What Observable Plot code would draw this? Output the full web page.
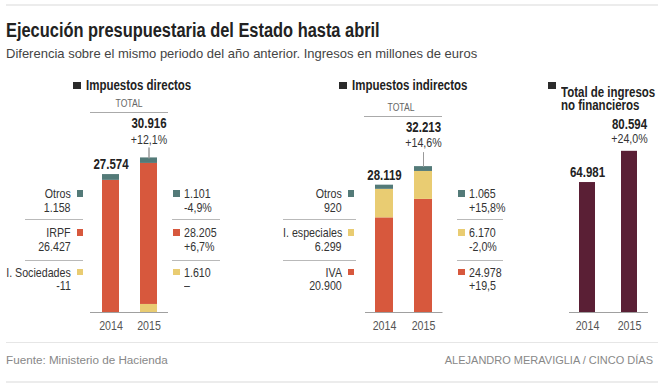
<!DOCTYPE html>
<html><head><meta charset="utf-8">
<script src="https://cdn.jsdelivr.net/npm/d3@7"></script>
<script src="https://cdn.jsdelivr.net/npm/@observablehq/plot@0.6"></script>
<style>
html,body{margin:0;padding:0;background:#fff;}
#chart{position:relative;width:664px;height:388px;overflow:hidden;background:#fff;}
.t{position:absolute;white-space:pre;}
.ln{position:absolute;height:0;border-top:1px solid #b9b9b9;}
.sq{position:absolute;}
.pl{position:absolute;}
.pl svg{overflow:visible;max-width:none;}
</style></head><body><div id="chart"></div>
<script>
// ---------- data ----------
const years = ["2014", "2015"];

const directCategories = ["I. Sociedades", "IRPF", "Otros"];
const directSociedades = [-11, 1610];
const directIRPF = [26427, 28205];
const directOtros = [1158, 1101];
const directTotals = [27574, 30916];
const directTotalChange = "+12,1%";
const directChanges = ["–", "+6,7%", "-4,9%"];

const indirectCategories = ["IVA", "I. especiales", "Otros"];
const indirectIVA = [20900, 24978];
const indirectEspeciales = [6299, 6170];
const indirectOtros = [920, 1065];
const indirectTotals = [28119, 32213];
const indirectTotalChange = "+14,6%";
const indirectChanges = ["+19,5", "-2,0%", "+15,8%"];

const totalCategories = ["Total de ingresos no financieros"];
const totalIngresos = [64981, 80594];
const totalChange = "+24,0%";

// ---------- style ----------
const TEAL = "#537a78", RED = "#d7583d", YELLOW = "#e9cc72", MAROON = "#5a1f35";
const W = 664;
const fmt = d3.formatLocale({decimal: ",", thousands: ".", grouping: [3], currency: ["", "€"], minus: "-"}).format(",d");

function hasFont(name) {
  const c = document.createElement("canvas").getContext("2d");
  const s = "I. Sociedades 1234567890 Impuestos directos";
  let diff = false;
  for (const fb of ["monospace", "serif"]) {
    c.font = `40px ${fb}`; const a = c.measureText(s).width;
    c.font = `40px "${name}", ${fb}`; const b = c.measureText(s).width;
    if (Math.abs(a - b) > 0.5) diff = true;
  }
  return diff;
}
let NARROW = null, SX = 1;
for (const f of ["Liberation Sans Narrow", "Arial Narrow"]) if (hasFont(f)) { NARROW = `"${f}", sans-serif`; break; }
if (!NARROW) { NARROW = `"Liberation Sans", Arial, sans-serif`; SX = 0.82; }
const REG = `"Liberation Sans", Arial, sans-serif`;

const root = document.getElementById("chart");

function label(text, o) {
  const size = o.size || 13, weight = o.weight || 400, align = o.align || "left";
  const lh = o.lh || size;
  const d = document.createElement("div");
  d.className = "t";
  d.textContent = text;
  d.style.font = `${weight} ${size}px ${o.family || NARROW}`;
  d.style.lineHeight = lh + "px";
  d.style.top = (o.cy - lh / 2 + size * 0.01) + "px";
  d.style.color = o.color || "#333";
  let origin = "left";
  if (align === "left") d.style.left = o.x + "px";
  else if (align === "right") { d.style.right = (W - o.x) + "px"; origin = "right"; }
  else { d.style.left = (o.x - 150) + "px"; d.style.width = "300px"; d.style.textAlign = "center"; origin = "center"; }
  const sx = o.cond === false ? 1 : SX;
  if (sx !== 1) { d.style.transform = `scaleX(${sx})`; d.style.transformOrigin = origin + " center"; }
  root.appendChild(d);
}
function line(x1, x2, y, color, w) {
  const d = document.createElement("div");
  d.className = "ln";
  d.style.left = x1 + "px"; d.style.width = (x2 - x1) + "px"; d.style.top = y + "px";
  if (color) d.style.borderTopColor = color;
  if (w) d.style.borderTopWidth = w + "px";
  root.appendChild(d);
}
function square(x, cy, s, color) {
  const d = document.createElement("div");
  d.className = "sq";
  d.style.left = x + "px"; d.style.top = (cy - s / 2) + "px";
  d.style.width = s + "px"; d.style.height = s + "px"; d.style.background = color;
  root.appendChild(d);
}

// ---------- header / footer ----------
line(6, 658, 4, "#ececec", 2);
label("Ejecución presupuestaria del Estado hasta abril", {x: 6, cy: 30, size: 20, weight: 700, color: "#222"});
label("Diferencia sobre el mismo periodo del año anterior. Ingresos en millones de euros", {x: 6, cy: 53.5, size: 13, color: "#444", family: REG, cond: false});
line(6, 658, 342, "#e6e6e6", 1.5);
line(6, 658, 381, "#ececec", 2);
label("Fuente: Ministerio de Hacienda", {x: 6, cy: 360, size: 11.7, color: "#888", family: REG, cond: false});
label("ALEJANDRO MERAVIGLIA / CINCO DÍAS", {x: 653, cy: 360, size: 11, color: "#888", family: REG, cond: false, align: "right"});

// ---------- panels ----------
const FRAME_TOP = 120, FRAME_H = 192;

function panel(cfg) {
  const rows = [];
  cfg.categories.forEach((c, i) => years.forEach((y, j) => rows.push({year: y, category: c, value: cfg.series[i][j]})));
  const tot = years.map((y, j) => ({year: y, total: cfg.totals[j], label: fmt(cfg.totals[j]), change: cfg.totalChange}));
  const first = tot.slice(0, 1), last = tot.slice(1);
  const marks = [
    Plot.barY(rows, {x: "year", y: "value", fill: "category", order: cfg.categories}),
    Plot.ruleY([0], {stroke: "#a0a0a0", strokeWidth: 1}),
    Plot.axisX({tickSize: 0, tickPadding: 8, label: null}),
    Plot.text(first, {x: "year", y: "total", text: "label", dy: cfg.dyFirst, fontWeight: "bold", fontSize: 14, fill: "#222"}),
    Plot.text(last, {x: "year", y: "total", text: "label", dy: cfg.dyValue, fontWeight: "bold", fontSize: 14, fill: "#222"}),
    Plot.text(last, {x: "year", y: "total", text: "change", dy: cfg.dyChange, fontSize: 13, fill: "#333"})
  ];
  if (cfg.tick) marks.push(Plot.vector(last, {x: "year", y: "total", length: cfg.tick, rotate: 0, anchor: "start", shape: "spike", r: 0, stroke: "#9a9a9a", strokeWidth: 1, fill: "none"}));
  const M = 20;
  const svg = Plot.plot({
    width: cfg.frameWidth + 2 * M, height: M + FRAME_H + 25,
    marginLeft: M, marginRight: M, marginTop: M, marginBottom: 25,
    x: {domain: years, paddingInner: cfg.pin, paddingOuter: cfg.pout, axis: null},
    y: {domain: [0, cfg.yMax], axis: null},
    color: {domain: cfg.categories, range: cfg.colors},
    style: {background: "transparent", fontFamily: NARROW, fontSize: "13px", color: "#555", overflow: "visible"},
    marks
  });
  if (SX !== 1) svg.querySelectorAll("text").forEach(t => {
    const tr = t.getAttribute("transform") || "";
    t.setAttribute("transform", tr + ` scale(${SX},1)`);
  });
  const holder = document.createElement("div");
  holder.className = "pl";
  holder.style.left = (cfg.frameLeft - M) + "px";
  holder.style.top = (FRAME_TOP - M) + "px";
  holder.appendChild(svg);
  root.appendChild(holder);
}

function heading(text, x) {
  square(x, 85.5, 7.5, "#2b2b2b");
  const nLines = text.split("\n").length;
  label(text, {x: x + 13, cy: 85.5 + 6.5 * (nLines - 1), size: 14, lh: 13, weight: 700, color: "#222"});
}

const ROW_Y = [193.3, 232.6, 272];
const VAL_DY = 13.6;
const SEP_Y = [219.2, 260.2];

function sideLabels(cfg) {
  const n = cfg.categories.length;
  for (let k = 0; k < n; k++) {
    const i = n - 1 - k; // top row = last stacked category
    const cy = ROW_Y[k];
    label(cfg.categories[i], {x: cfg.leftTextRight, cy, size: 13, align: "right"});
    square(cfg.leftTextRight + 5.5, cy, 6.5, cfg.colors[i]);
    label(fmt(cfg.series[i][0]), {x: cfg.leftTextRight, cy: cy + VAL_DY, size: 13, align: "right"});
    square(cfg.rightSquare, cy, 6.5, cfg.colors[i]);
    label(fmt(cfg.series[i][1]), {x: cfg.rightSquare + 10.5, cy, size: 13});
    label(cfg.changes[i], {x: cfg.rightSquare + 10.5, cy: cy + VAL_DY, size: 13});
  }
  SEP_Y.forEach(y => {
    line(cfg.leftLine[0], cfg.leftLine[1], y);
    line(cfg.rightLine[0], cfg.rightLine[1], y);
  });
}

// Impuestos directos
const direct = {
  categories: directCategories, colors: [YELLOW, RED, TEAL],
  series: [directSociedades, directIRPF, directOtros], totals: directTotals,
  totalChange: directTotalChange, changes: directChanges,
  frameLeft: 90, frameWidth: 78, pin: 0.562, pout: 0.298, yMax: 38400,
  dyFirst: -10, dyValue: -34.4, dyChange: -17.7, tick: 10.4,
  leftTextRight: 71, rightSquare: 173, leftLine: [25, 83], rightLine: [171.7, 220]
};
heading("Impuestos directos", 73);
label("TOTAL", {x: 128.5, cy: 103, size: 10.5, color: "#666", align: "center"});
line(90, 168, 111.5, "#aaa");
panel(direct);
sideLabels(direct);

// Impuestos indirectos
const indirect = {
  categories: indirectCategories, colors: [RED, YELLOW, TEAL],
  series: [indirectIVA, indirectEspeciales, indirectOtros], totals: indirectTotals,
  totalChange: indirectTotalChange, changes: indirectChanges,
  frameLeft: 365, frameWidth: 77.5, pin: 0.535, pout: 0.258, yMax: 42400,
  dyFirst: -10, dyValue: -38.7, dyChange: -23.7, tick: 14.3,
  leftTextRight: 342, rightSquare: 458, leftLine: [283, 356], rightLine: [456.7, 503]
};
heading("Impuestos indirectos", 339);
label("TOTAL", {x: 401, cy: 106.7, size: 10.5, color: "#666", align: "center"});
line(364, 442, 115.5, "#aaa");
panel(indirect);
sideLabels(indirect);

// Total de ingresos no financieros
const total = {
  categories: totalCategories, colors: [MAROON],
  series: [totalIngresos], totals: totalIngresos,
  totalChange: totalChange,
  frameLeft: 569, frameWidth: 79, pin: 0.612, pout: 0.235, yMax: 96000,
  dyFirst: -10.5, dyValue: -27, dyChange: -12, tick: 0
};
heading("Total de ingresos\nno financieros", 548);
panel(total);
</script></body></html>
